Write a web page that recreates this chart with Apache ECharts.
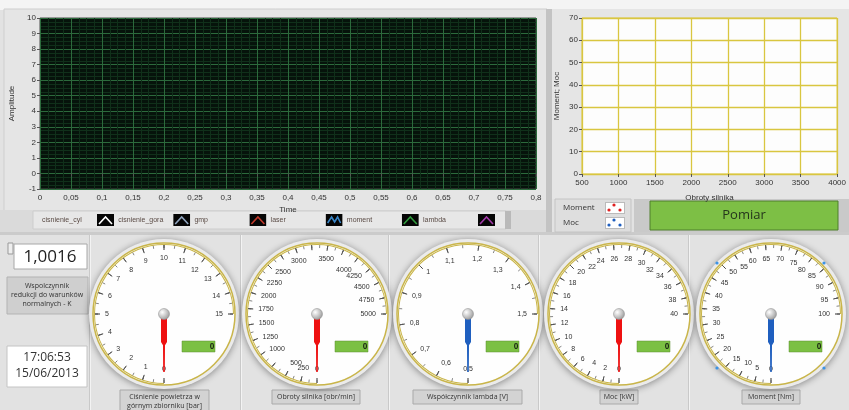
<!DOCTYPE html>
<html>
<head>
<meta charset="utf-8">
<script src="https://cdn.jsdelivr.net/npm/echarts@6/dist/echarts.min.js"></script>
<style>
    html, body { margin: 0; padding: 0; background: #e2e2e2; }
    #panel { width: 849px; height: 410px; }
</style>
</head>
<body>
<div id="panel"></div>
<script>
// Data
// ------------------------------

var timeRange = [0, 0.8];
var timeStep = 0.05;
var ampRange = [-1, 10];
var signalNames = ['cisnienie_cyl', 'cisnienie_gora', 'gmp', 'laser', 'moment', 'lambda'];
var signalColors = ['#ffffff', '#8fa3bd', '#c0392b', '#3a86c8', '#2f9a3c', '#a23aa8'];
var signalData = [[], [], [], [], [], []];

var rpmRange = [500, 4000];
var rpmStep = 500;
var powerRange = [0, 70];
var xyNames = ['Moment', 'Moc'];
var xyColors = ['#e02020', '#1f5fbf'];
var momentPoints = [];
var mocPoints = [];

var gaugeNames = ['Ciśnienie powietrza w górnym zbiorniku [bar]', 'Obroty silnika [obr/min]',
    'Współczynnik lambda [V]', 'Moc [kW]', 'Moment [Nm]'];
var gaugeMin = [0, 0, 0.5, 0, 0];
var gaugeMax = [15, 5000, 1.5, 40, 100];
var gaugeSplits = [15, 20, 10, 20, 20];
var gaugeValues = [0, 0, 0, 0, 0];
var rpmHiddenLabels = [750, 2750, 3250, 3750];

var factorK = '1,0016';
var stampTime = '17:06:53';
var stampDate = '15/06/2013';

// Layout
// ------------------------------

var gaugeX = [164, 317, 468, 619, 771];
var gaugeY = 314;
var needleColors = ['#ee1111', '#ee1111', '#1f5fbf', '#ee1111', '#1f5fbf'];
var captionBoxes = [[120, 89, 22], [272, 88, 14], [413, 109, 14], [600, 38, 14], [742, 58, 14]];

function plNum(v) {
    return String(Math.round(v * 100) / 100).replace('.', ',');
}

function svgUrl(body, w, h) {
    return 'data:image/svg+xml;charset=utf-8,' + encodeURIComponent(
        "<svg xmlns='http://www.w3.org/2000/svg' width='" + w + "' height='" + h + "'>" + body + "</svg>");
}

function lineIcon(color, i) {
    var pts = i === 3 ? '2,9 6,3 9,8 12,3 15,9' : '2,10 8.5,3 15,10';
    return svgUrl("<rect width='17' height='12' fill='#050505'/><polyline points='" + pts +
        "' fill='none' stroke='" + color + "' stroke-width='1.6'/>", 17, 12);
}

function dotIcon(color) {
    return svgUrl("<rect x='0.5' y='0.5' width='19' height='11' fill='#fff' stroke='#bbb'/>" +
        "<circle cx='4' cy='8' r='1.6' fill='" + color + "'/><circle cx='9' cy='3' r='1.6' fill='" + color + "'/>" +
        "<circle cx='15' cy='8' r='1.6' fill='" + color + "'/>", 20, 12);
}

var chart = echarts.init(document.getElementById('panel'));

// Background graphics
// ------------------------------

var graphics = [
    {type: 'rect', z: -10, shape: {x: 0, y: 0, width: 849, height: 10}, style: {fill: '#f4f4f4'}},
    {type: 'rect', z: -10, shape: {x: 4, y: 9, width: 543, height: 202}, style: {fill: '#e5e5e5', stroke: '#cfcfcf'}},
    {type: 'rect', z: -10, shape: {x: 546, y: 9, width: 6, height: 224}, style: {fill: '#c3c3c3'}},
    {type: 'rect', z: -10, shape: {x: 552, y: 9, width: 297, height: 190}, style: {fill: '#e5e5e5'}},
    {type: 'rect', z: -10, shape: {x: 0, y: 210, width: 546, height: 22}, style: {fill: '#dadada'}},
    {type: 'rect', z: -10, shape: {x: 33, y: 211, width: 473, height: 18}, style: {fill: '#e7e7e7', stroke: '#cdcdcd'}},
    {type: 'rect', z: -10, shape: {x: 505, y: 211, width: 6, height: 18}, style: {fill: '#b9b9b9'}},
    {type: 'rect', z: -10, shape: {x: 0, y: 232, width: 849, height: 3}, style: {fill: '#cbcbcb'}},
    // Moment / Moc legend box and button
    {type: 'rect', z: -10, shape: {x: 555, y: 199, width: 76, height: 33}, style: {fill: '#dedede', stroke: '#c4c4c4'}},
    {type: 'rect', z: -10, shape: {x: 634, y: 199, width: 215, height: 33}, style: {fill: '#c9c9c9'}},
    {type: 'rect', z: -9, shape: {x: 650, y: 201, width: 188, height: 29}, style: {fill: '#7dbf45', stroke: '#4f7f2c'}},
    {type: 'text', z: -8, x: 744, y: 215, style: {text: 'Pomiar', fill: '#25361c', fontSize: 13,
        fontFamily: 'Open Sans', align: 'center', verticalAlign: 'middle'}},
    // left info boxes
    {type: 'rect', z: -9, shape: {x: 8, y: 243, width: 5, height: 11}, style: {fill: '#eeeeee', stroke: '#999'}},
    {type: 'rect', z: -9, shape: {x: 14, y: 244, width: 73, height: 25}, style: {fill: '#ffffff', stroke: '#a8a8a8'}},
    {type: 'text', z: -8, x: 50, y: 257, style: {text: factorK, fill: '#1e1e1e', fontSize: 17,
        fontFamily: 'Open Sans', align: 'center', verticalAlign: 'middle'}},
    {type: 'rect', z: -9, shape: {x: 7, y: 277, width: 81, height: 37}, style: {fill: '#cfcfcf', stroke: '#b3b3b3'}},
    {type: 'text', z: -8, x: 47, y: 295, style: {text: 'Wspolczynnik\nredukcji do warunków\nnormalnych - K',
        fill: '#333', fontSize: 7, lineHeight: 9, fontFamily: 'Open Sans', align: 'center', verticalAlign: 'middle'}},
    {type: 'rect', z: -9, shape: {x: 7, y: 346, width: 80, height: 41}, style: {fill: '#ffffff', stroke: '#c4c4c4'}},
    {type: 'text', z: -8, x: 47, y: 366, style: {text: stampTime + '\n' + stampDate, fill: '#333',
        fontSize: 12, lineHeight: 16, fontFamily: 'Open Sans', align: 'center', verticalAlign: 'middle'}}
];

// plot legend strip (fixed-width LabVIEW columns)
signalNames.forEach(function (n, i) {
    var x0 = 42 + i * 76.2;
    graphics.push({type: 'text', z: -8, x: x0, y: 220, style: {text: n, fill: '#5a4b45', fontSize: 7,
        fontFamily: 'Liberation Sans', align: 'left', verticalAlign: 'middle'}});
    graphics.push({type: 'image', z: -8, style: {image: lineIcon(signalColors[i], i),
        x: x0 + 55, y: 214, width: 17, height: 12}});
});

// XY legend
xyNames.forEach(function (n, i) {
    graphics.push({type: 'text', z: -8, x: 563, y: 208 + i * 15, style: {text: n, fill: '#333', fontSize: 8,
        fontFamily: 'Open Sans', align: 'left', verticalAlign: 'middle'}});
    graphics.push({type: 'image', z: -8, style: {image: dotIcon(xyColors[i]),
        x: 605, y: 202 + i * 15, width: 20, height: 12}});
});

// gauge panel separators
[89, 240, 388, 538, 688].forEach(function (x) {
    graphics.push({type: 'rect', z: -10, shape: {x: x, y: 235, width: 1, height: 175}, style: {fill: '#c9c9c9'}});
    graphics.push({type: 'rect', z: -10, shape: {x: x + 1, y: 235, width: 1, height: 175}, style: {fill: '#f3f3f3'}});
});

// gauge faces, value boxes and captions
gaugeX.forEach(function (cx, i) {
    graphics.push({type: 'circle', z: -5, shape: {cx: cx, cy: gaugeY, r: 75},
        style: {fill: '#ebebeb', shadowBlur: 7, shadowColor: 'rgba(0,0,0,0.4)', shadowOffsetY: 1}});
    graphics.push({type: 'circle', z: -4, shape: {cx: cx, cy: gaugeY, r: 71},
        style: {fill: '#fefefe', stroke: '#c9b54a', lineWidth: 1.5}});
    graphics.push({type: 'rect', z: -3, shape: {x: cx + 18, y: gaugeY + 27, width: 33, height: 11},
        style: {fill: '#7bc043', stroke: '#5c8f31', lineWidth: 0.5}});
    var b = captionBoxes[i];
    graphics.push({type: 'rect', z: -9, shape: {x: b[0], y: 390, width: b[1], height: b[2]},
        style: {fill: '#d3d3d3', stroke: '#a9a9a9'}});
    var label = i === 0 ? 'Ciśnienie powietrza w\ngórnym zbiorniku [bar]' : gaugeNames[i];
    graphics.push({type: 'text', z: -8, x: b[0] + b[1] / 2, y: 390 + b[2] / 2, style: {text: label,
        fill: '#333', fontSize: 7, lineHeight: 9, fontFamily: 'Open Sans', align: 'center', verticalAlign: 'middle'}});
});

// selection handles on the last dial
[[717, 263], [824, 263], [717, 368], [824, 368]].forEach(function (p) {
    graphics.push({type: 'circle', z: 5, shape: {cx: p[0], cy: p[1], r: 1.6}, style: {fill: '#3b93e6'}});
});

// Gauges
// ------------------------------

function dial(i) {
    return {
        type: 'gauge',
        name: gaugeNames[i],
        center: [gaugeX[i], gaugeY],
        radius: 70,
        startAngle: 270,
        endAngle: 0,
        min: gaugeMin[i],
        max: gaugeMax[i],
        splitNumber: gaugeSplits[i],
        axisLine: {show: true, lineStyle: {width: 1, color: [[1, '#c9b54a']]}},
        splitLine: {length: 5, distance: 0, lineStyle: {color: '#333', width: 1}},
        axisTick: {splitNumber: 2, length: 3, distance: 0, lineStyle: {color: '#666', width: 0.8}},
        axisLabel: {
            distance: 6, fontSize: 7, color: '#333', fontFamily: 'Liberation Sans',
            formatter: function (v) {
                var r = Math.round(v * 100) / 100;
                if (i === 1 && rpmHiddenLabels.indexOf(r) >= 0) return '';
                return plNum(r);
            }
        },
        pointer: {
            icon: 'path://M2.2,0 L3.8,0 L4,46 L6,52 L6,100 L0,100 L0,52 L2,46 Z',
            width: 6, length: '83%', itemStyle: {color: needleColors[i]}
        },
        anchor: {
            show: true, showAbove: true, size: 11,
            itemStyle: {
                color: new echarts.graphic.RadialGradient(0.35, 0.35, 0.7, [
                    {offset: 0, color: '#ffffff'}, {offset: 1, color: '#9a9a9a'}]),
                borderColor: '#8a8a8a', borderWidth: 0.5
            }
        },
        title: {show: false},
        detail: {
            offsetCenter: [48, 33],
            width: 30,
            height: 10,
            lineHeight: 10,
            align: 'right',
            verticalAlign: 'middle',
            fontSize: 8,
            color: '#1d2b14',
            fontFamily: 'Open Sans',
            formatter: '{value}'
        },
        data: [{value: gaugeValues[i], name: gaugeNames[i]}]
    };
}

// Series
// ------------------------------

var series = signalNames.map(function (n, i) {
    return {name: n, type: 'line', xAxisIndex: 0, yAxisIndex: 0, color: signalColors[i],
        showSymbol: false, data: signalData[i]};
});
series.push({name: xyNames[0], type: 'scatter', xAxisIndex: 1, yAxisIndex: 1, color: xyColors[0],
    symbolSize: 4, data: momentPoints});
series.push({name: xyNames[1], type: 'scatter', xAxisIndex: 1, yAxisIndex: 1, color: xyColors[1],
    symbolSize: 4, data: mocPoints});
for (var g = 0; g < gaugeNames.length; g++) {
    series.push(dial(g));
}

var tickText = {fontSize: 8, color: '#333', fontFamily: 'Liberation Sans'};

var options = {
    backgroundColor: '#e2e2e2',
    animation: false,
    graphic: graphics,
    grid: [
        {left: 40, top: 18, width: 496, height: 171, show: true, backgroundColor: '#06130b',
            borderColor: '#4a4a4a', borderWidth: 1},
        {left: 582, top: 18, width: 266, height: 156, show: true, backgroundColor: '#fdfdfd',
            borderColor: '#d8c43c', borderWidth: 1}
    ],
    xAxis: [{
        type: 'value', gridIndex: 0, min: timeRange[0], max: timeRange[1], interval: timeStep,
        name: 'Time', nameLocation: 'middle', nameGap: 17,
        nameTextStyle: {fontSize: 8, color: '#333', fontFamily: 'Liberation Sans'},
        axisLine: {show: false},
        axisTick: {show: true, length: 3, lineStyle: {color: '#555'}},
        axisLabel: Object.assign({margin: 5, formatter: plNum}, tickText),
        splitLine: {show: true, lineStyle: {color: '#2c6a3c', width: 1}},
        minorTick: {show: false, splitNumber: 4},
        minorSplitLine: {show: true, lineStyle: {color: '#10301a', width: 1}}
    }, {
        type: 'value', gridIndex: 1, min: rpmRange[0], max: rpmRange[1], interval: rpmStep,
        name: 'Obroty silnika', nameLocation: 'middle', nameGap: 20,
        nameTextStyle: {fontSize: 8, color: '#333', fontFamily: 'Liberation Sans'},
        axisLine: {show: false},
        axisTick: {show: true, length: 3, lineStyle: {color: '#555'}},
        axisLabel: Object.assign({margin: 5, formatter: function (v) { return String(v); }}, tickText),
        splitLine: {show: true, lineStyle: {color: '#d9c640', width: 1.3}}
    }],
    yAxis: [{
        type: 'value', gridIndex: 0, min: ampRange[0], max: ampRange[1], interval: 1,
        name: 'Amplitude', nameLocation: 'middle', nameGap: 21, nameRotate: 90,
        nameTextStyle: {fontSize: 8, color: '#333', fontFamily: 'Liberation Sans'},
        axisLine: {show: false},
        axisTick: {show: true, length: 3, lineStyle: {color: '#555'}},
        axisLabel: Object.assign({margin: 4}, tickText),
        splitLine: {show: true, lineStyle: {color: '#2c6a3c', width: 1}},
        minorTick: {show: false, splitNumber: 4},
        minorSplitLine: {show: true, lineStyle: {color: '#10301a', width: 1}}
    }, {
        type: 'value', gridIndex: 1, min: powerRange[0], max: powerRange[1], interval: 10,
        name: 'Moment; Moc', nameLocation: 'middle', nameGap: 21, nameRotate: 90,
        nameTextStyle: {fontSize: 8, color: '#333', fontFamily: 'Liberation Sans'},
        axisLine: {show: false},
        axisTick: {show: true, length: 3, lineStyle: {color: '#555'}},
        axisLabel: Object.assign({margin: 4}, tickText),
        splitLine: {show: true, lineStyle: {color: '#d9c640', width: 1.3}}
    }],
    series: series
};

chart.setOption(options);

window.onresize = function () {
    setTimeout(function () {
        chart.resize();
    }, 200);
};
</script>
</body>
</html>
